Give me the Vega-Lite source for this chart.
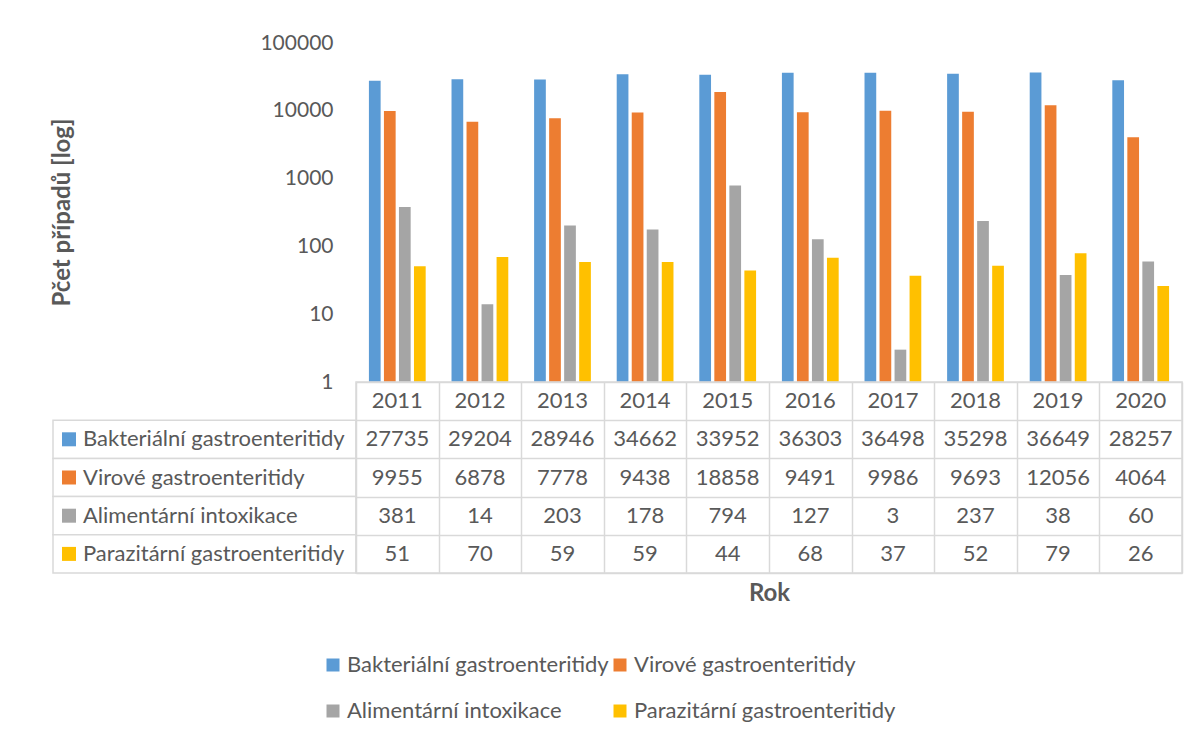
{
  "$schema": "https://vega.github.io/schema/vega-lite/v6.json",
  "background": "white",
  "padding": {"left": 50, "top": 32, "right": 5, "bottom": 5},
  "config": {"font": "Lato", "view": {"stroke": null}},
  "datasets": {
    "d": [
      {"rok": "2011", "typ": "Bakteriální gastroenteritidy", "pocet": 27735},
      {"rok": "2012", "typ": "Bakteriální gastroenteritidy", "pocet": 29204},
      {"rok": "2013", "typ": "Bakteriální gastroenteritidy", "pocet": 28946},
      {"rok": "2014", "typ": "Bakteriální gastroenteritidy", "pocet": 34662},
      {"rok": "2015", "typ": "Bakteriální gastroenteritidy", "pocet": 33952},
      {"rok": "2016", "typ": "Bakteriální gastroenteritidy", "pocet": 36303},
      {"rok": "2017", "typ": "Bakteriální gastroenteritidy", "pocet": 36498},
      {"rok": "2018", "typ": "Bakteriální gastroenteritidy", "pocet": 35298},
      {"rok": "2019", "typ": "Bakteriální gastroenteritidy", "pocet": 36649},
      {"rok": "2020", "typ": "Bakteriální gastroenteritidy", "pocet": 28257},
      {"rok": "2011", "typ": "Virové gastroenteritidy", "pocet": 9955},
      {"rok": "2012", "typ": "Virové gastroenteritidy", "pocet": 6878},
      {"rok": "2013", "typ": "Virové gastroenteritidy", "pocet": 7778},
      {"rok": "2014", "typ": "Virové gastroenteritidy", "pocet": 9438},
      {"rok": "2015", "typ": "Virové gastroenteritidy", "pocet": 18858},
      {"rok": "2016", "typ": "Virové gastroenteritidy", "pocet": 9491},
      {"rok": "2017", "typ": "Virové gastroenteritidy", "pocet": 9986},
      {"rok": "2018", "typ": "Virové gastroenteritidy", "pocet": 9693},
      {"rok": "2019", "typ": "Virové gastroenteritidy", "pocet": 12056},
      {"rok": "2020", "typ": "Virové gastroenteritidy", "pocet": 4064},
      {"rok": "2011", "typ": "Alimentární intoxikace", "pocet": 381},
      {"rok": "2012", "typ": "Alimentární intoxikace", "pocet": 14},
      {"rok": "2013", "typ": "Alimentární intoxikace", "pocet": 203},
      {"rok": "2014", "typ": "Alimentární intoxikace", "pocet": 178},
      {"rok": "2015", "typ": "Alimentární intoxikace", "pocet": 794},
      {"rok": "2016", "typ": "Alimentární intoxikace", "pocet": 127},
      {"rok": "2017", "typ": "Alimentární intoxikace", "pocet": 3},
      {"rok": "2018", "typ": "Alimentární intoxikace", "pocet": 237},
      {"rok": "2019", "typ": "Alimentární intoxikace", "pocet": 38},
      {"rok": "2020", "typ": "Alimentární intoxikace", "pocet": 60},
      {"rok": "2011", "typ": "Parazitární gastroenteritidy", "pocet": 51},
      {"rok": "2012", "typ": "Parazitární gastroenteritidy", "pocet": 70},
      {"rok": "2013", "typ": "Parazitární gastroenteritidy", "pocet": 59},
      {"rok": "2014", "typ": "Parazitární gastroenteritidy", "pocet": 59},
      {"rok": "2015", "typ": "Parazitární gastroenteritidy", "pocet": 44},
      {"rok": "2016", "typ": "Parazitární gastroenteritidy", "pocet": 68},
      {"rok": "2017", "typ": "Parazitární gastroenteritidy", "pocet": 37},
      {"rok": "2018", "typ": "Parazitární gastroenteritidy", "pocet": 52},
      {"rok": "2019", "typ": "Parazitární gastroenteritidy", "pocet": 79},
      {"rok": "2020", "typ": "Parazitární gastroenteritidy", "pocet": 26}
    ]
  },
  "columns": 2,
  "spacing": 0,
  "bounds": "flush",
  "concat": [
    {
      "width": 303,
      "height": 339,
      "data": {"values": [{"a": 0}]},
      "mark": {"type": "text", "text": ""},
      "encoding": {}
    },
    {
      "width": 826,
      "height": 339,
      "data": {"name": "d"},
      "mark": {"type": "bar"},
      "encoding": {
        "x": {"field": "rok", "type": "nominal", "scale": {"paddingInner": 0, "paddingOuter": 0}, "axis": null},
        "xOffset": {"field": "typ", "type": "nominal", "scale": {"domain": ["Bakteriální gastroenteritidy", "Virové gastroenteritidy", "Alimentární intoxikace", "Parazitární gastroenteritidy"], "paddingInner": 0.22, "paddingOuter": 0.86}},
        "y": {
          "field": "pocet", "type": "quantitative",
          "scale": {"type": "log", "domain": [1, 100000], "nice": false},
          "axis": {
            "values": [1, 10, 100, 1000, 10000, 100000], "format": "d",
            "grid": false, "ticks": false, "domain": false,
            "labelFontSize": 21, "labelColor": "#595959", "labelPadding": 23,
            "title": "Pčet případů [log]", "titleFontSize": 24, "titleFontWeight": "bold", "titleColor": "#595959",
            "titleX": -294, "titleY": 169, "titleBaseline": "middle"
          }
        },
        "y2": {"datum": 1},
        "color": {
          "field": "typ", "type": "nominal",
          "scale": {"domain": ["Bakteriální gastroenteritidy", "Virové gastroenteritidy", "Alimentární intoxikace", "Parazitární gastroenteritidy"], "range": ["#5B9BD5", "#ED7D31", "#A5A5A5", "#FFC000"]},
          "legend": {
            "title": null, "orient": "none", "legendX": 269, "legendY": 611,
            "columns": 2, "direction": "horizontal",
            "symbolType": "square", "symbolSize": 169, "symbolStrokeWidth": 0,
            "labelFontSize": 22, "labelColor": "#595959", "labelOffset": 3, "labelLimit": 400,
            "columnPadding": 0, "rowPadding": 24
          }
        }
      }
    },
    {
      "width": 303,
      "height": 191,
      "data": {"name": "d"},
      "transform": [{"filter": "datum.rok == '2011'"}],
      "layer": [
        {
          "mark": {"type": "rect", "fill": "white", "stroke": "#d9d9d9", "strokeWidth": 1.5},
          "encoding": {
            "x": {"datum": 0, "type": "quantitative", "scale": {"domain": [0, 303], "nice": false, "zero": false}, "axis": null},
            "x2": {"datum": 303},
            "y": {"field": "typ", "type": "nominal", "scale": {"domain": ["Rok", "Bakteriální gastroenteritidy", "Virové gastroenteritidy", "Alimentární intoxikace", "Parazitární gastroenteritidy"], "paddingInner": 0, "paddingOuter": 0}, "axis": null}
          }
        },
        {
          "mark": {"type": "point", "shape": "square", "filled": true, "size": 196, "opacity": 1, "strokeWidth": 0},
          "encoding": {
            "x": {"datum": 16, "type": "quantitative"},
            "y": {"field": "typ", "type": "nominal"},
            "color": {
              "field": "typ", "type": "nominal",
              "scale": {"domain": ["Bakteriální gastroenteritidy", "Virové gastroenteritidy", "Alimentární intoxikace", "Parazitární gastroenteritidy"], "range": ["#5B9BD5", "#ED7D31", "#A5A5A5", "#FFC000"]},
              "legend": null
            }
          }
        },
        {
          "mark": {"type": "text", "align": "left", "baseline": "middle", "fontSize": 22, "color": "#595959"},
          "encoding": {
            "x": {"datum": 30, "type": "quantitative"},
            "y": {"field": "typ", "type": "nominal"},
            "text": {"field": "typ"}
          }
        }
      ]
    },
    {
      "width": 826,
      "height": 191,
      "view": {"stroke": "#d9d9d9", "strokeWidth": 1.5},
      "data": {"name": "d"},
      "encoding": {
        "x": {
          "field": "rok", "type": "nominal", "scale": {"paddingInner": 0, "paddingOuter": 0},
          "axis": {
            "orient": "bottom", "grid": true, "tickBand": "extent", "gridColor": "#d9d9d9", "gridWidth": 1.5,
            "labels": false, "ticks": false, "domain": false,
            "title": "Rok", "titleFontSize": 24, "titleFontWeight": "bold", "titleColor": "#595959", "titlePadding": 8
          }
        }
      },
      "layer": [
        {
          "mark": {"type": "text", "fontSize": 22, "color": "#595959", "baseline": "middle"},
          "encoding": {
            "y": {
              "field": "typ", "type": "nominal",
              "scale": {"domain": ["Rok", "Bakteriální gastroenteritidy", "Virové gastroenteritidy", "Alimentární intoxikace", "Parazitární gastroenteritidy"], "paddingInner": 0, "paddingOuter": 0},
              "axis": {"grid": true, "tickBand": "extent", "gridColor": "#d9d9d9", "gridWidth": 1.5, "labels": false, "ticks": false, "domain": false, "title": null}
            },
            "text": {"field": "pocet", "type": "quantitative", "format": "d"}
          }
        },
        {
          "transform": [{"filter": "datum.typ == 'Bakteriální gastroenteritidy'"}],
          "mark": {"type": "text", "fontSize": 22, "color": "#595959", "baseline": "middle"},
          "encoding": {
            "y": {"datum": "Rok", "type": "nominal"},
            "text": {"field": "rok", "type": "nominal"}
          }
        }
      ]
    }
  ]
}
